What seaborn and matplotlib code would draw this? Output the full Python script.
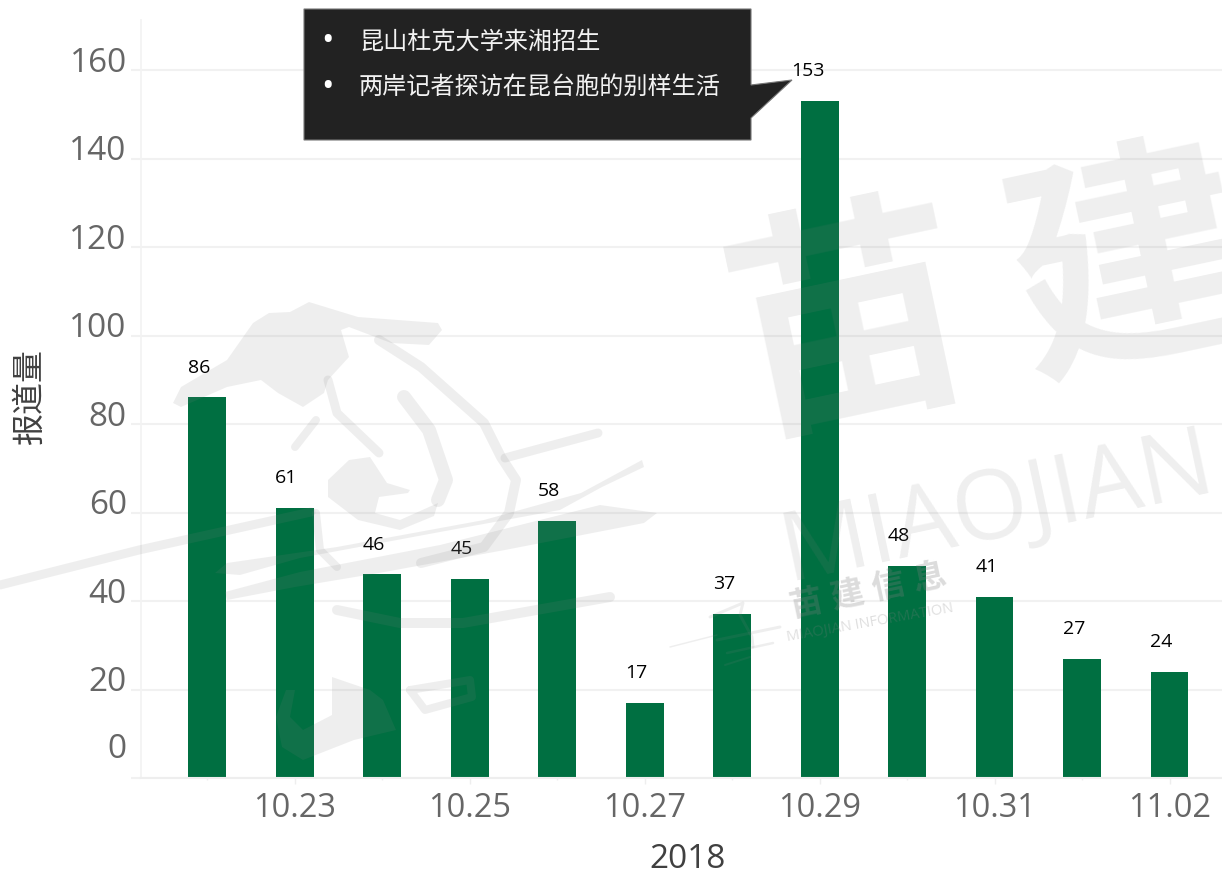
import matplotlib
matplotlib.use("Agg")
import matplotlib.pyplot as plt
import matplotlib.transforms as mtrans
from matplotlib.patches import Polygon, PathPatch
from matplotlib.path import Path
import pandas as pd
import seaborn as sns

dates = ['10.22', '10.23', '10.24', '10.25', '10.26', '10.27',
         '10.28', '10.29', '10.30', '10.31', '11.01', '11.02']
counts = [86, 61, 46, 45, 58, 17, 37, 153, 48, 41, 27, 24]
y_ticks = [0, 20, 40, 60, 80, 100, 120, 140, 160]
notes = ['昆山杜克大学来湘招生', '两岸记者探访在昆台胞的别样生活']

W, H = 1222, 875
df = pd.DataFrame({'date': dates, 'count': counts})

sns.set_theme(style='white')
plt.rcParams['font.family'] = ['Open Sans', 'Noto Sans CJK SC', 'DejaVu Sans']

fig = plt.figure(figsize=(W / 100, H / 100), dpi=100)
ax = fig.add_axes([141 / W, 1 - 778 / H, 1081 / W, 758 / H])
ax.patch.set_alpha(0)

sns.barplot(data=df, x='date', y='count', color='#006f41', saturation=1,
            width=0.434, linewidth=0, ax=ax, zorder=2)
ax.set_xlim(-0.755, 11.6)
ax.set_ylim(0, 171.3)

# grid and axes, all very faint
ax.grid(axis='y', color='#f1f1f1', lw=1.5, zorder=0)
ax.set_axisbelow(True)
sns.despine(ax=ax, top=True, right=True)
ax.spines['left'].set_color('#f3f3f3')
ax.spines['bottom'].set_color('#eeeeee')
ax.spines['bottom'].set_linewidth(1.5)

# x labels only on every second day
ax.set_xticks(range(len(dates)))
ax.set_xticklabels([d if i % 2 == 1 else '' for i, d in enumerate(dates)])
ax.tick_params(axis='x', length=4, width=1, color='#eeeeee', labelsize=23.5,
               labelcolor='#666666', pad=6, bottom=True)
for i, tick in enumerate(ax.xaxis.get_major_ticks()):
    if i % 2 == 0:
        tick.tick1line.set_markersize(1.5)

# y labels sit above their gridlines, 0 a long way above
ax.set_yticks(y_ticks)
ax.tick_params(axis='y', length=7.2, width=1.5, color='#f1f1f1', labelsize=24,
               labelcolor='#666666', pad=3, left=True)
for tick, lab in zip(y_ticks, ax.get_yticklabels()):
    shift = 32 if tick == 0 else 11
    lab.set_transform(lab.get_transform() + mtrans.Affine2D().translate(0, shift))

ax.set_xlabel('2018', fontsize=24, color='#404040')
ax.xaxis.set_label_coords((688 - 141) / 1081, -(860 - 778) / 758)
ax.xaxis.label.set_va('center')
ax.set_ylabel('报道量', fontsize=23, color='#404040')
ax.yaxis.set_label_coords(-(141 - 30) / 1081, (778 - 396) / 758)
ax.yaxis.label.set_va('center')

for i, v in enumerate(counts):
    dx = -8.5 if v == 153 else -5.8
    ax.annotate(str(v), (i, v), xytext=(dx, 21.5), textcoords='offset points',
                ha='center', va='center', fontsize=14, color='black', zorder=6)


def px(pts):
    # image pixels to figure fractions
    return [(x / W, 1 - y / H) for x, y in pts]


# callout box
box = [(304, 9), (751, 9), (751, 85), (792, 80), (751, 118), (751, 140), (304, 140)]
fig.add_artist(Polygon(px(box), closed=True, transform=fig.transFigure,
                       facecolor='#222222', edgecolor='#777777', lw=0.8, zorder=5))
for y, note in zip([40, 85], notes):
    fig.text(327 / W, 1 - (y + 2) / H, '•', color='white', fontsize=24, ha='center',
             va='center', zorder=6)
    fig.text(359 / W, 1 - (y + 3) / H, note, color='#f2f2f2', fontsize=17.4, ha='left',
             va='center', zorder=6)

# watermark
wm = dict(color='#808080', alpha=0.13, ha='center', va='center', zorder=3,
          rotation_mode='anchor')
fig.text(852 / W, 1 - 337 / H, '苗', fontsize=172, rotation=12, fontweight='bold', **wm)
fig.text(1132 / W, 1 - 280 / H, '建', fontsize=172, rotation=12, fontweight='bold', **wm)
fig.text(998 / W, 1 - 510 / H, 'MIAOJIAN', fontsize=70, rotation=12, **wm)
wm2 = dict(wm, alpha=0.28)
fig.text(868 / W, 1 - 592 / H, '苗 建 信 息', fontsize=24, rotation=12, fontweight='bold', **wm2)
fig.text(870 / W, 1 - 623 / H, 'MIAOJIAN INFORMATION', fontsize=10.5, rotation=10,
         **dict(wm, alpha=0.25))

brush_fill = [
    [(173, 403), (181, 387), (227, 360), (253, 323), (269, 313), (290, 312), (309, 302),
     (358, 317), (438, 323), (442, 330), (429, 345), (391, 343), (349, 327), (341, 330),
     (349, 357), (328, 380), (324, 393), (303, 407), (278, 393), (261, 380), (227, 387),
     (181, 407)],
    [(328, 480), (349, 460), (370, 457), (387, 483), (410, 490), (408, 493), (379, 497),
     (375, 513), (400, 520), (438, 503), (434, 516), (400, 530), (358, 520), (328, 497)],
    [(215, 573), (227, 563), (337, 547), (484, 520), (581, 493), (642, 460), (644, 467),
     (602, 487), (560, 510), (440, 532), (300, 558), (240, 575)],
    [(225, 592), (300, 572), (440, 545), (600, 505), (657, 513), (644, 523), (505, 550),
     (379, 573), (295, 587), (227, 600)],
    [(286, 690), (295, 690), (290, 717), (303, 730), (332, 715), (332, 677), (370, 690),
     (383, 700), (396, 730), (354, 740), (303, 760), (282, 747), (276, 717)],
]
brush_lines = [
    ([(379, 340), (421, 367), (484, 423), (501, 457), (516, 480), (509, 513), (484, 547), (421, 563)], 10),
    ([(404, 397), (429, 430), (446, 480), (438, 500)], 14),
    ([(328, 380), (337, 413), (379, 453)], 9),
    ([(316, 420), (295, 447)], 8),
    ([(505, 458), (598, 433)], 9),
    ([(337, 610), (400, 623), (463, 623), (610, 597)], 10),
    ([(0, 585), (139, 550), (311, 512)], 9),
    ([(316, 513), (320, 550), (337, 567)], 8),
    ([(410, 690), (470, 680), (472, 697), (425, 710), (410, 690)], 8),
    ([(710, 617), (743, 603), (740, 615), (752, 637), (753, 647)], 3),
    ([(717, 640), (780, 627)], 3),
    ([(727, 653), (773, 643)], 2.5),
    ([(670, 647), (717, 635)], 1.5),
    ([(725, 665), (750, 657)], 2),
]
for pts in brush_fill:
    fig.add_artist(Polygon(px(pts), closed=True, transform=fig.transFigure,
                           facecolor='#808080', edgecolor='none', alpha=0.13, zorder=3))
for pts, lw in brush_lines:
    fig.add_artist(PathPatch(Path(px(pts)), transform=fig.transFigure, facecolor='none',
                             edgecolor='#808080', lw=lw * 0.72, alpha=0.13, zorder=3,
                             capstyle='round', joinstyle='round'))

fig.savefig('out.png', dpi=100, facecolor='white')
